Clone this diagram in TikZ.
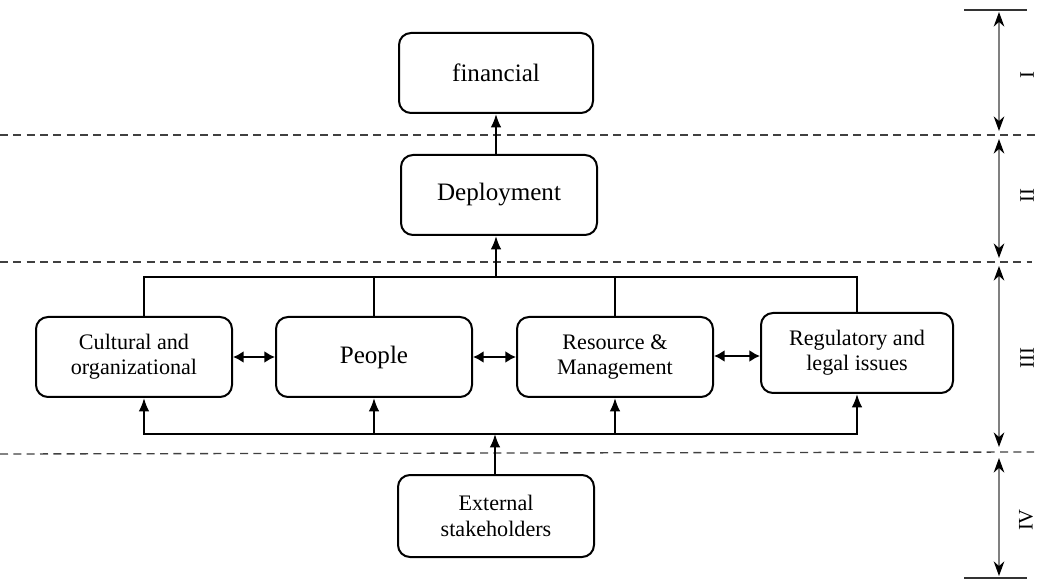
\documentclass[tikz,border=0pt]{standalone}
\usepackage{fontspec}
\setmainfont{Liberation Serif}
\usetikzlibrary{arrows.meta}
\begin{document}
\begin{tikzpicture}[x=0.75pt,y=-0.75pt,
  box/.style={draw,line width=1.5pt,rounded corners=9pt,inner sep=0pt,align=center,minimum width=147pt,minimum height=60pt},
  big/.style={font=\fontsize{18.8}{22}\selectfont},
  small/.style={font=\fontsize{16.6}{19}\selectfont},
  conn/.style={line width=1.5pt},
  arr/.style={line width=1.5pt,-{Latex[length=10pt,width=8pt]}},
  darr/.style={line width=1.5pt,{Latex[length=8pt,width=9pt]}-{Latex[length=8pt,width=9pt]}},
  sep/.style={dash pattern=on 6pt off 4pt,line width=1pt,draw=black!75},
  span/.style={line width=0.8pt,draw=black!50,{Stealth[length=11pt,width=8pt,color=black]}-{Stealth[length=11pt,width=8pt,color=black]}},
  lim/.style={line width=1.5pt,draw=black!80},
  lvl/.style={rotate=90,inner sep=0pt,font=\fontsize{15.5}{18}\selectfont}]
\useasboundingbox (0,0) rectangle (1038,580);

% separators
\draw[sep] (0,135) -- (1038,135);
\draw[sep] (0,262) -- (1032,262);
\draw[sep] (0,454) -- (1034,452);

% boxes
\node[box,big,minimum width=145.5pt] (fin) at (496,73) {financial};
\node[box,big] (dep) at (499,195) {Deployment};
\node[box,small] (cul) at (134,357) {Cultural and\\organizational};
\node[box,big] (peo) at (374,357) {People};
\node[box,small] (res) at (615,357) {Resource \&\\Management};
\node[box,small,minimum width=144pt] (reg) at (857,353) {Regulatory and\\legal issues};
\node[box,small,minimum height=61.5pt] (ext) at (496,516) {External\\stakeholders};

% bus coordinates
\coordinate (tb) at (496,277);
\coordinate (bb) at (495,434);

% top bus
\draw[conn] ([xshift=7.5pt]cul.north) |- (tb) -| (reg.north);
\draw[conn] (peo.north) -- (peo.north |- tb);
\draw[conn] (res.north) -- (res.north |- tb);
\draw[arr] (tb) -- (tb |- dep.south);
\draw[arr] (dep.north -| fin.south) -- (fin.south);

% bottom bus
\draw[arr] (bb) -| ([xshift=7.5pt]cul.south);
\draw[arr] (bb) -| (reg.south);
\draw[arr] (peo.south |- bb) -- (peo.south);
\draw[arr] (res.south |- bb) -- (res.south);
\draw[arr] (ext.north -| bb) -- (bb);

% lateral links
\draw[darr] (cul.east) -- (peo.west);
\draw[darr] (peo.east) -- (res.west);
\draw[darr] (res.east |- reg.west) ++(0,3) coordinate (rr) (rr) -- (rr -| reg.west);

% level markers
\coordinate (t0) at (964,10);
\coordinate (t1) at (1027,10);
\coordinate (b0) at (964,578);
\coordinate (b1) at (1027,578);
\draw[lim] (t0) -- (t1);
\draw[lim] (b0) -- (b1);
\coordinate (a1) at (999,12);  \coordinate (a2) at (999,131);
\coordinate (a3) at (999,139); \coordinate (a4) at (999,258);
\coordinate (a5) at (999,266); \coordinate (a6) at (999,447);
\coordinate (a7) at (999,458); \coordinate (a8) at (999,576);
\draw[span] (a1) -- (a2);
\draw[span] (a3) -- (a4);
\draw[span] (a5) -- (a6);
\draw[span] (a7) -- (a8);
\node[lvl] (l1) at (1027,75) {I};
\node[lvl] (l2) at (1027,196) {II};
\node[lvl] (l3) at (1027,358) {III};
\node[lvl] (l4) at (1026,520) {IV};
\end{tikzpicture}
\end{document}
